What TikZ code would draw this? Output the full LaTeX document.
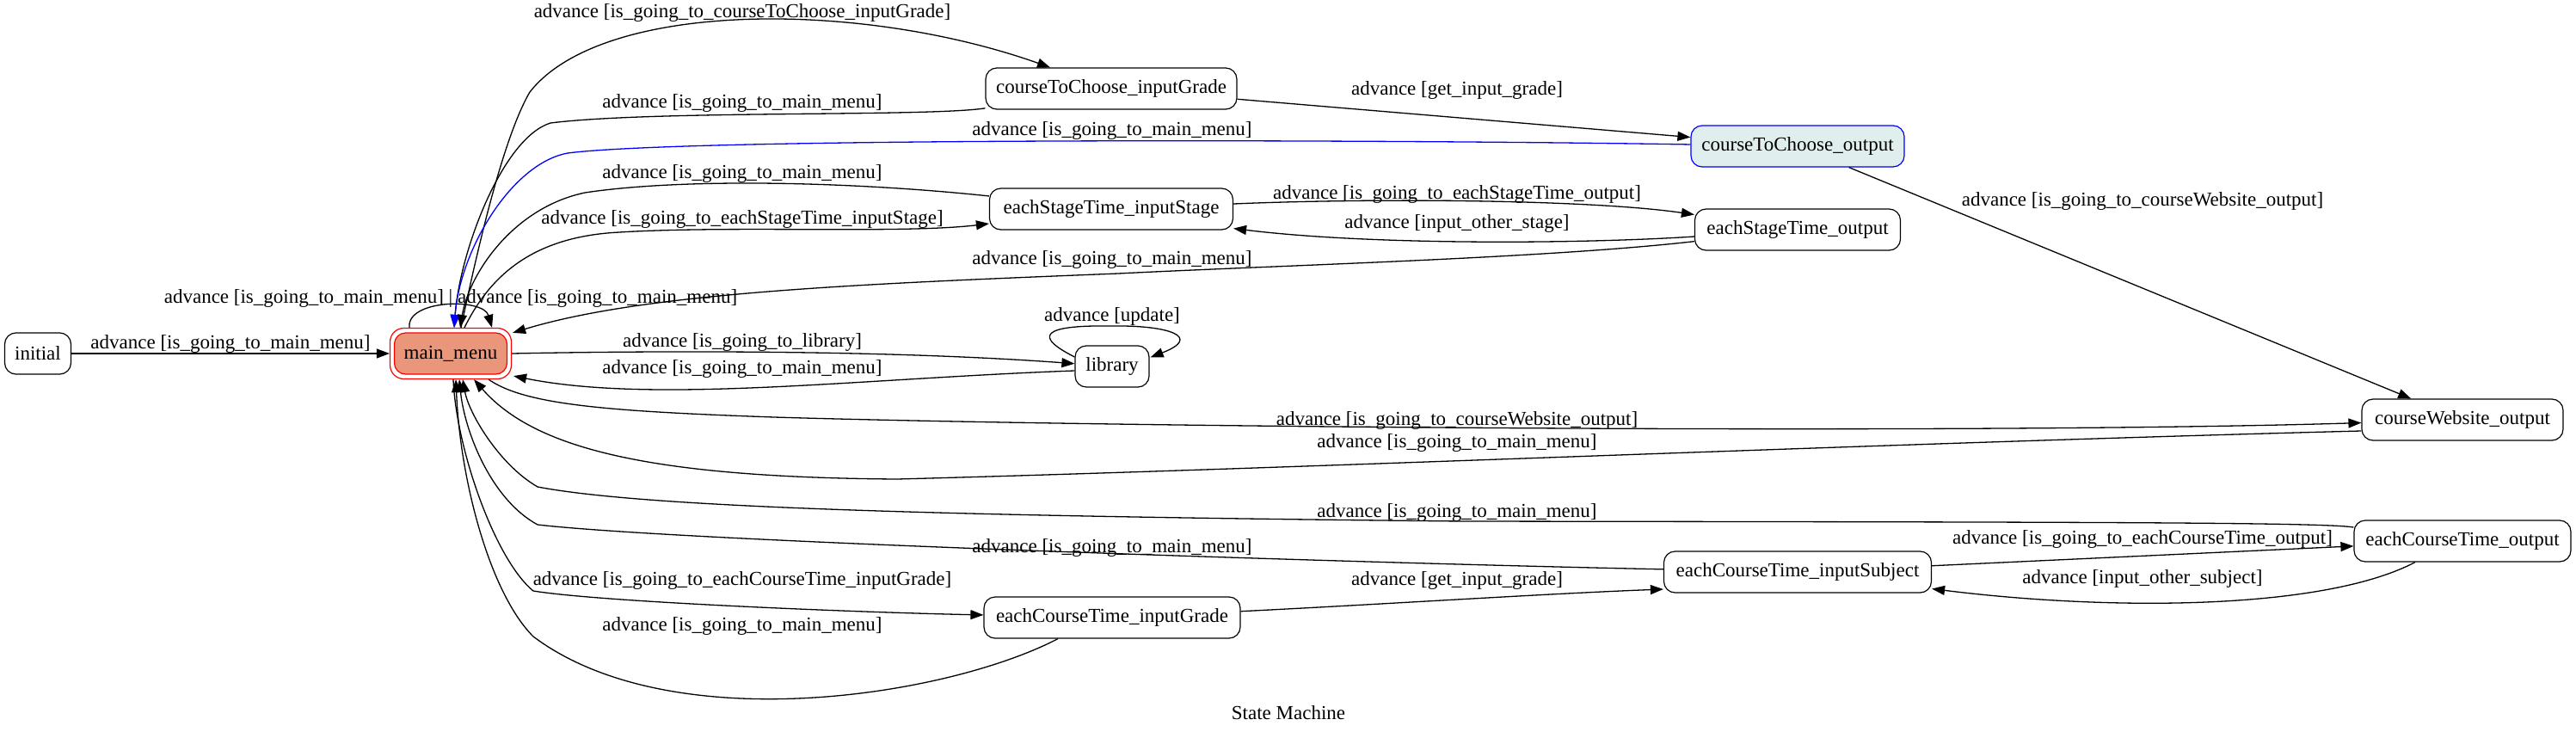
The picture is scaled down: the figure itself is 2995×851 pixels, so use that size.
\documentclass[tikz,border=0pt]{standalone}
\usepackage{fontspec}
\setmainfont{Liberation Serif}
\usetikzlibrary{arrows.meta,calc}
\definecolor{salmonfill}{RGB}{233,150,122}
\definecolor{azurefill}{RGB}{224,238,238}
\begin{document}
\begin{tikzpicture}[x=0.5pt,y=-0.5pt,
  font=\fontsize{11.5}{13}\selectfont,
  st/.style={draw=black, fill=white, rounded corners=6.5pt, minimum height=24pt, inner sep=0pt, line width=0.6pt},
  edge/.style={draw, line width=0.65pt, -{Triangle[length=7.5pt,width=5.5pt]}},
  lab/.style={inner sep=0pt}]
\useasboundingbox (0,0) rectangle (2995,851);
\fill[white] (0,0) rectangle (2995,851);

% states
\node[st, minimum width=38.5pt] (init) at (44,411) {initial};
\node[draw=red, rounded corners=8pt, minimum width=70.5pt, minimum height=29.5pt, inner sep=0pt, line width=0.6pt] (main) at (524,411) {};
\node[st, draw=red, fill=salmonfill, minimum width=65.5pt] (mainin) at (524,411) {main\_menu};
\node[st, minimum width=146pt] (ctci) at (1292,103) {courseToChoose\_inputGrade};
\node[st, minimum width=141.5pt] (esti) at (1292,243) {eachStageTime\_inputStage};
\node[st, minimum width=43pt] (lib) at (1293,426) {library};
\node[st, draw=blue, fill=azurefill, minimum width=124pt] (cto) at (2090,170) {courseToChoose\_output};
\node[st, minimum width=119.5pt] (esto) at (2090,267) {eachStageTime\_output};
\node[st, minimum width=117pt] (cwo) at (2863,488) {courseWebsite\_output};
\node[st, minimum width=126pt] (eco) at (2863,629) {eachCourseTime\_output};
\node[st, minimum width=155.5pt] (ecs) at (2090,665) {eachCourseTime\_inputSubject};
\node[st, minimum width=149pt] (ecig) at (1293,718) {eachCourseTime\_inputGrade};

% edges
\draw[edge] (init) -- (main);
\draw[edge] ($(main.north)+(-48,0)$) .. controls (472,348) and (562,346) .. ($(main.north)+(48,0)$);
\draw[edge] ($(main.north)+(12,0)$) .. controls (555,290) and (585,160) .. (616,107) .. controls (700,0) and (1000,0) .. ($(ctci.north)+(-71,0)$);
\draw[edge] (ctci) .. controls (1080,136) and (760,128) .. (640,143) .. controls (585,160) and (535,290) .. ($(main.north)+(4,0)$);
\draw[edge, blue] (cto) .. controls (1600,162) and (800,160) .. (660,178) .. controls (595,190) and (535,290) .. ($(main.north)+(4,0)$);
\draw[edge] ($(main.north)+(16,0)$) .. controls (570,320) and (620,275) .. (720,270) .. controls (850,262) and (1050,272) .. (esti);
\draw[edge] (esti) .. controls (1000,212) and (800,206) .. (680,224) .. controls (595,242) and (545,320) .. ($(main.north)+(11,0)$);
\draw[edge] (esti) .. controls (1600,230) and (1850,232) .. (esto);
\draw[edge] (esto) .. controls (1850,283) and (1600,286) .. ($(esti.south east)+(0,-2)$);
\draw[edge] (esto) .. controls (1800,300) and (1500,308) .. (1300,318) .. controls (1000,330) and (750,340) .. ($(main.north east)+(1,6)$);
\draw[edge] (main.east) .. controls (800,407) and (1050,408) .. (lib);
\draw[edge] ($(lib.west)+(0,5)$) .. controls (1000,440) and (760,470) .. ($(main.south east)+(2,-4)$);
\draw[edge] ($(lib.west)+(0,-11)$) .. controls (1190,385) and (1230,378) .. (1293,379) .. controls (1360,378) and (1398,392) .. ($(lib.north east)+(1,14)$);
\draw[edge] (ctci) -- (cto);
\draw[edge] (cto) -- (cwo);
\draw[edge] ($(main.south)+(44,0)$) .. controls (610,470) and (700,478) .. (900,485) .. controls (1300,497) and (2300,505) .. (cwo);
\draw[edge] ($(cwo.west)+(0,13)$) .. controls (2200,515) and (1500,545) .. (1043,557) .. controls (750,555) and (620,520) .. ($(main.south)+(27,0)$);
\draw[edge] ($(eco.west)+(0,-16)$) .. controls (2700,607) and (2400,607) .. (1700,606) .. controls (1100,600) and (750,590) .. (625,566) .. controls (580,540) and (545,480) .. ($(main.south)+(14,0)$);
\draw[edge] (ecs) .. controls (1600,655) and (800,630) .. (625,610) .. controls (570,580) and (540,500) .. ($(main.south)+(10,0)$);
\draw[edge] (ecs) -- (eco);
\draw[edge] ($(eco.south)+(-55,0)$) .. controls (2700,710) and (2450,710) .. (ecs);
\draw[edge] ($(main.south)+(3,0)$) .. controls (530,520) and (575,650) .. (620,687) .. controls (700,700) and (1000,712) .. (ecig);
\draw[edge] (ecig) .. controls (1600,703) and (1800,690) .. ($(ecs.west)+(0,20)$);
\draw[edge] ($(ecig.south)+(-63,0)$) .. controls (1100,810) and (780,860) .. (620,740) .. controls (570,690) and (535,560) .. ($(main.south)+(6,0)$);

% labels
\node[lab] (l1) at (268,400) {advance [is\_going\_to\_main\_menu]};
\node[lab] (l2) at (524,347) {advance [is\_going\_to\_main\_menu] | advance [is\_going\_to\_main\_menu]};
\node[lab] (l3) at (863,15) {advance [is\_going\_to\_courseToChoose\_inputGrade]};
\node[lab] (l4) at (863,120) {advance [is\_going\_to\_main\_menu]};
\node[lab] (l5) at (1293,152) {advance [is\_going\_to\_main\_menu]};
\node[lab] (l6) at (863,255) {advance [is\_going\_to\_eachStageTime\_inputStage]};
\node[lab] (l7) at (863,202) {advance [is\_going\_to\_main\_menu]};
\node[lab] (l8) at (1694,226) {advance [is\_going\_to\_eachStageTime\_output]};
\node[lab] (l9) at (1694,260) {advance [input\_other\_stage]};
\node[lab] (l10) at (1293,302) {advance [is\_going\_to\_main\_menu]};
\node[lab] (l11) at (863,398) {advance [is\_going\_to\_library]};
\node[lab] (l12) at (863,429) {advance [is\_going\_to\_main\_menu]};
\node[lab] (l13) at (1293,368) {advance [update]};
\node[lab] (l14) at (1694,105) {advance [get\_input\_grade]};
\node[lab] (l15) at (2491,234) {advance [is\_going\_to\_courseWebsite\_output]};
\node[lab] (l16) at (1694,489) {advance [is\_going\_to\_courseWebsite\_output]};
\node[lab] (l17) at (1694,515) {advance [is\_going\_to\_main\_menu]};
\node[lab] (l18) at (1694,596) {advance [is\_going\_to\_main\_menu]};
\node[lab] (l19) at (1293,637) {advance [is\_going\_to\_main\_menu]};
\node[lab] (l20) at (2491,627) {advance [is\_going\_to\_eachCourseTime\_output]};
\node[lab] (l21) at (2491,673) {advance [input\_other\_subject]};
\node[lab] (l22) at (863,675) {advance [is\_going\_to\_eachCourseTime\_inputGrade]};
\node[lab] (l23) at (1694,675) {advance [get\_input\_grade]};
\node[lab] (l24) at (863,728) {advance [is\_going\_to\_main\_menu]};
\node[lab] (title) at (1498,829) {State Machine};
\end{tikzpicture}
\end{document}
